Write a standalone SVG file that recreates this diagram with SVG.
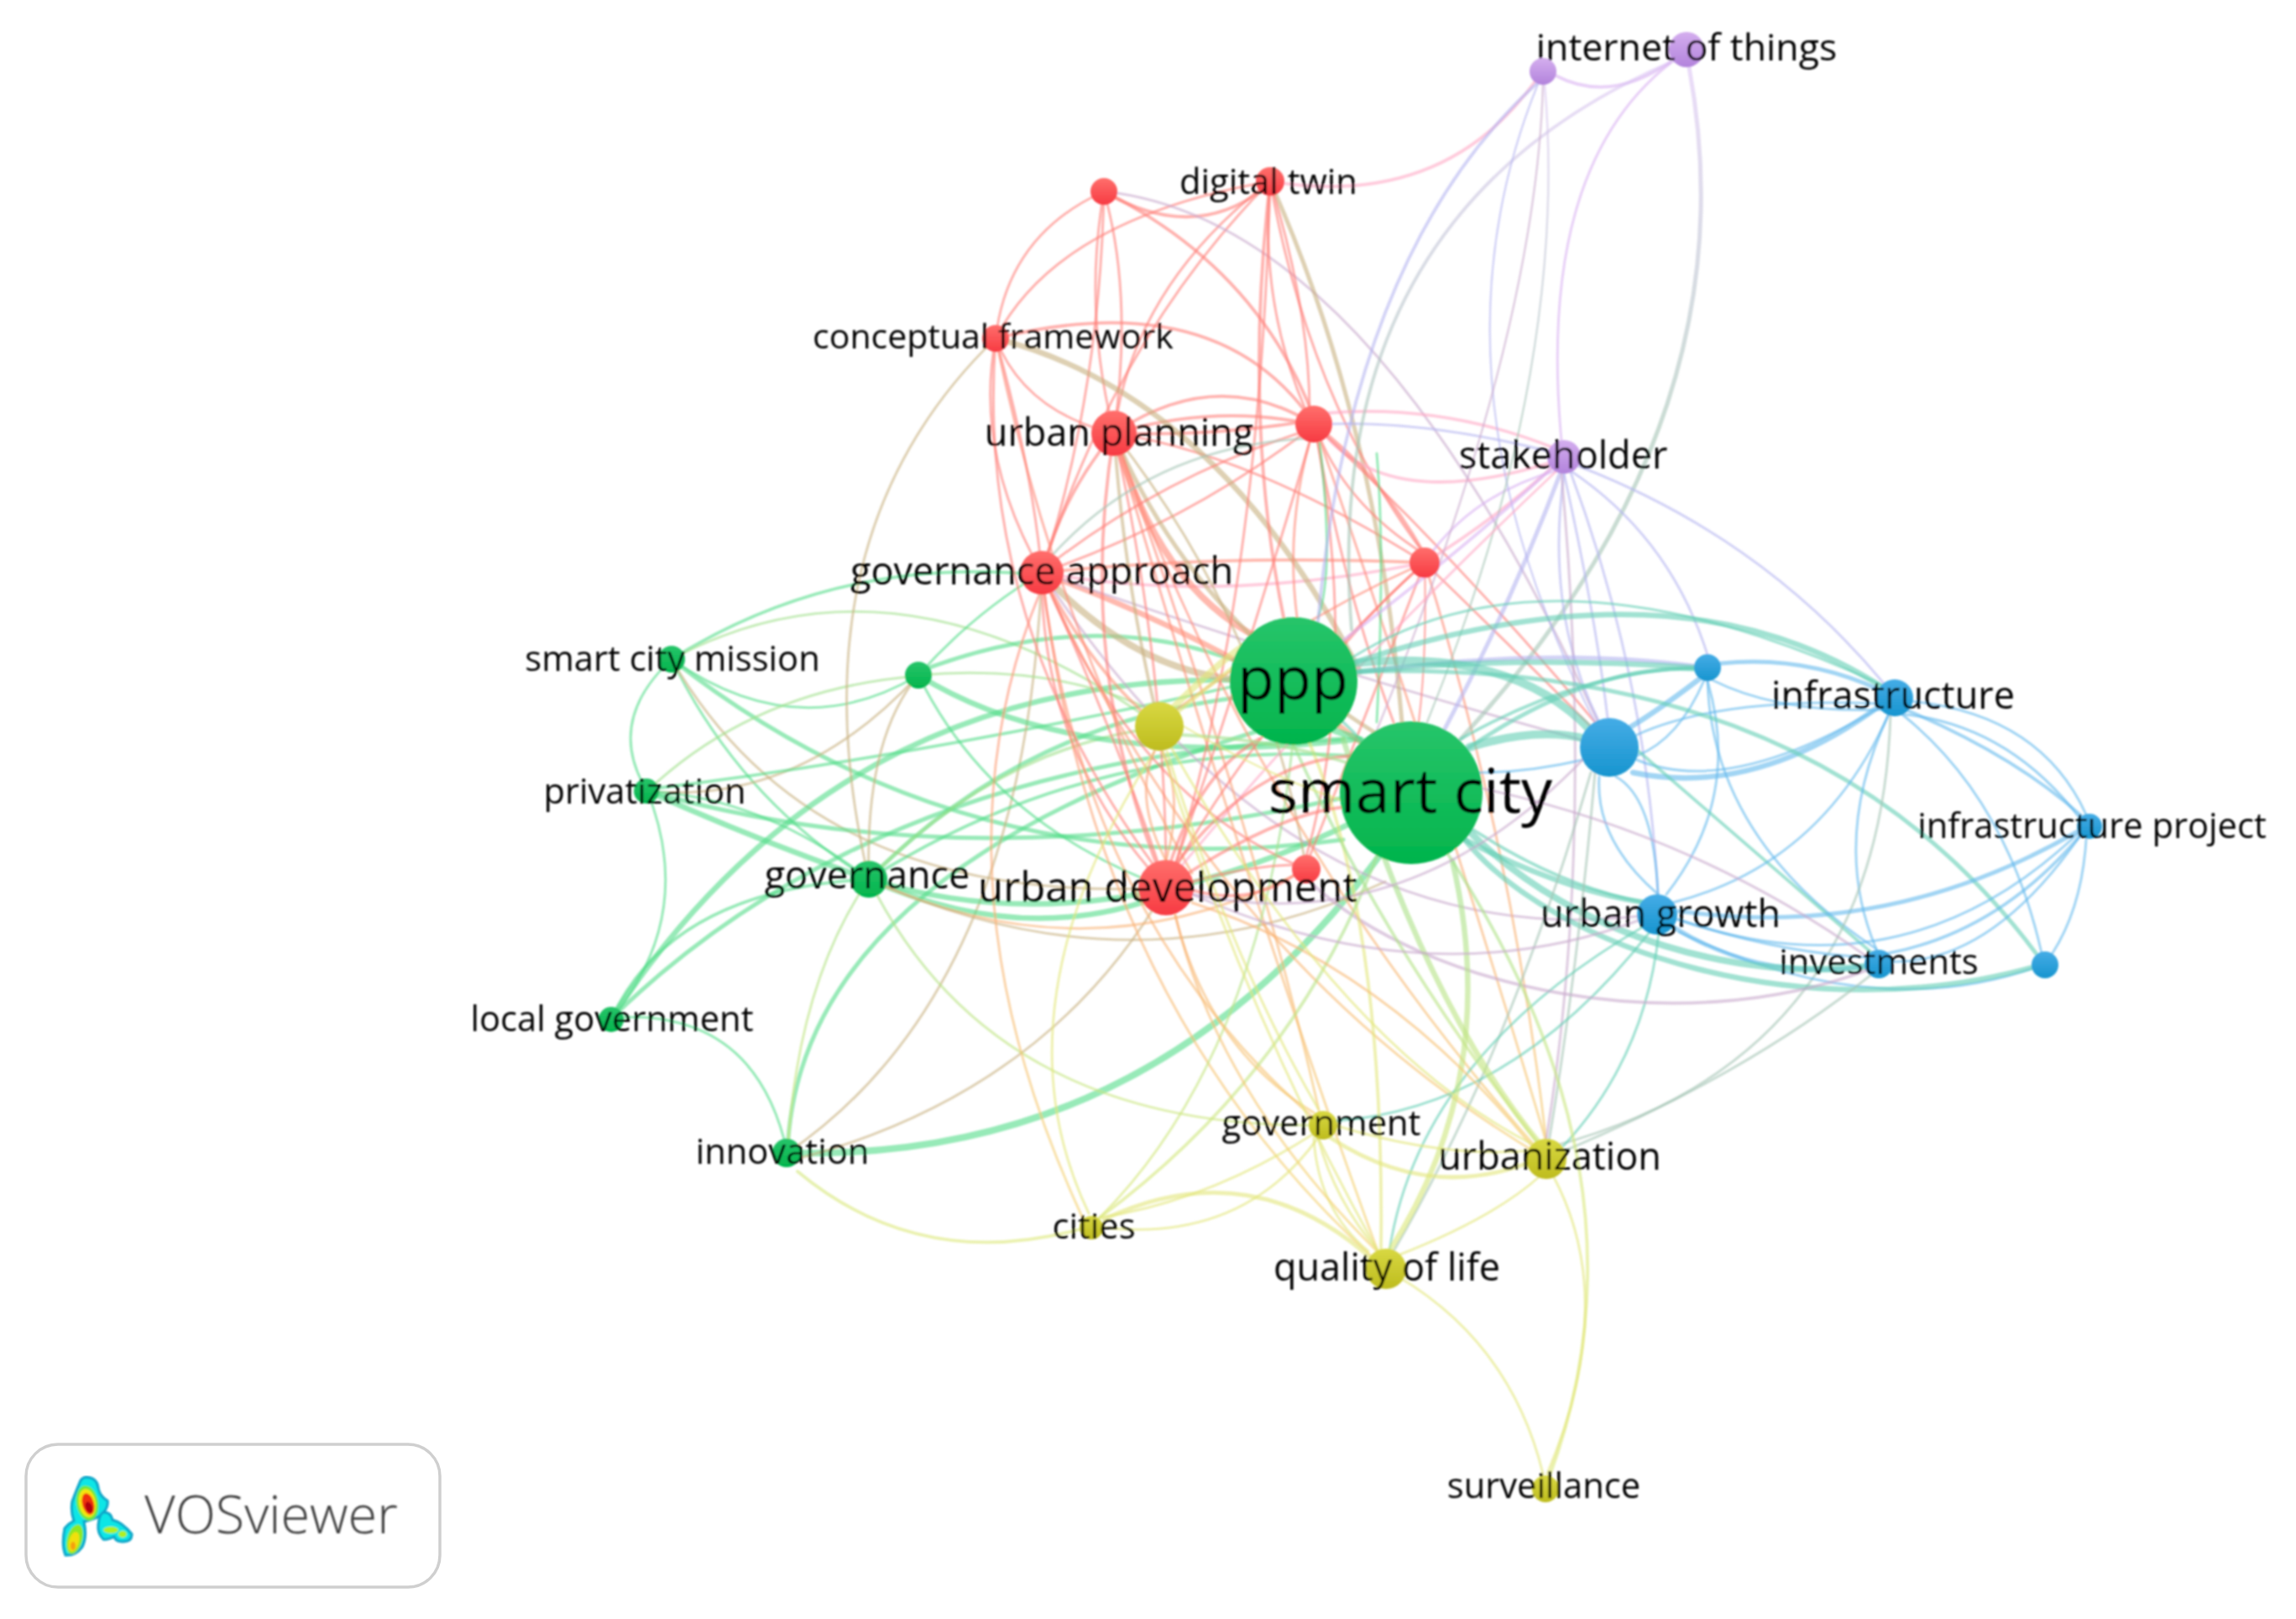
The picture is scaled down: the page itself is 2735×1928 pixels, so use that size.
<svg xmlns="http://www.w3.org/2000/svg" width="2735" height="1928" viewBox="0 0 2735 1928">
<style>
#connectors path{fill:none;stroke-width:3;stroke-opacity:.6;stroke-linecap:round}
.r{stroke:#ff7f78}.g{stroke:#52dc88}.b{stroke:#64b9ec}.y{stroke:#e2e67a}.p{stroke:#d8b0f2}
.rg{stroke:#c8b080}.gb{stroke:#62cfb4}.yg{stroke:url(#vg)}.rp{stroke:#ffa8c4}.bp{stroke:#b4b4f0}.gp{stroke:url(#vp)}.ry{stroke:url(#vr)}.rb{stroke:#c8a8cc}
#connectors .w2{stroke-width:2.4}#connectors .w3{stroke-width:3.8}#connectors .w4{stroke-width:5}#connectors .w5{stroke-width:6.5}#connectors .w6{stroke-width:8}#connectors .w8{stroke-width:10}
.nr{fill:url(#gr)}.ng{fill:url(#gg)}.nb{fill:url(#gb)}.ny{fill:url(#gy)}.np{fill:url(#gp)}
text{font-family:"Open Sans","Noto Sans","Liberation Sans",sans-serif;fill:#000;text-anchor:middle}
.s{font-size:41.7px}.m{font-size:45px}
</style>
<defs>
<linearGradient id="gr" x1="0" y1="0" x2="0" y2="1"><stop offset="0" stop-color="#ff6f6c"/><stop offset="1" stop-color="#f73a42"/></linearGradient>
<linearGradient id="gg" x1="0" y1="0" x2="0" y2="1"><stop offset="0" stop-color="#27c56a"/><stop offset="1" stop-color="#02b44c"/></linearGradient>
<linearGradient id="gb" x1="0" y1="0" x2="0" y2="1"><stop offset="0" stop-color="#45ace6"/><stop offset="1" stop-color="#1795cf"/></linearGradient>
<linearGradient id="gy" x1="0" y1="0" x2="0" y2="1"><stop offset="0" stop-color="#d8d842"/><stop offset="1" stop-color="#bebc1e"/></linearGradient>
<linearGradient id="gp" x1="0" y1="0" x2="0" y2="1"><stop offset="0" stop-color="#d4aeee"/><stop offset="1" stop-color="#b283dc"/></linearGradient>
<linearGradient id="vr" gradientUnits="userSpaceOnUse" x1="0" y1="720" x2="0" y2="1400"><stop offset="0" stop-color="#ff8a78"/><stop offset="1" stop-color="#f4d070"/></linearGradient>
<linearGradient id="vg" gradientUnits="userSpaceOnUse" x1="0" y1="1000" x2="0" y2="1460"><stop offset="0" stop-color="#a0e08c"/><stop offset="1" stop-color="#dce878"/></linearGradient>
<linearGradient id="vp" gradientUnits="userSpaceOnUse" x1="0" y1="80" x2="0" y2="520"><stop offset="0" stop-color="#dcc4f4"/><stop offset="1" stop-color="#a4c4b4"/></linearGradient>
<filter id="soft" x="-2%" y="-2%" width="104%" height="104%"><feGaussianBlur stdDeviation="0.8"/></filter>
</defs>
<rect width="2735" height="1928" fill="#fff"/>
<g filter="url(#soft)">
<g id="connectors">
<path class="g w3" d="M800 785Q1000 660 1241 685"/>
<path class="yg" d="M800 785Q1070 640 1381 865"/>
<path class="g" d="M800 785Q950 890 1094 804"/>
<path class="g" d="M800 785Q720 860 771 942"/>
<path class="g" d="M800 785Q880 950 1035 1047"/>
<path class="rg" d="M800 785Q970 1080 1389 1057"/>
<path class="g w4" d="M800 785Q1150 1060 1600 1000"/>
<path class="yg" d="M771 942Q900 820 1094 805"/>
<path class="rg" d="M771 942Q950 960 1094 804"/>
<path class="g" d="M771 942Q910 950 1035 1047"/>
<path class="g w5" d="M771 942Q900 1000 1035 1047"/>
<path class="g w4" d="M771 942Q1150 1050 1600 950"/>
<path class="g w3" d="M771 940Q1100 900 1480 815"/>
<path class="g" d="M771 942Q830 1090 729 1212"/>
<path class="g w3" d="M729 1212Q800 1060 1035 1047"/>
<path class="g w5" d="M729 1212Q1000 800 1480 810"/>
<path class="g w4" d="M729 1212Q1050 900 1600 880"/>
<path class="g" d="M729 1212Q900 1200 938 1373"/>
<path class="g w4" d="M938 1373Q950 1040 1500 870"/>
<path class="yg" d="M938 1373Q950 1170 1035 1047"/>
<path class="g w6" d="M950 1373Q1380 1380 1650 1010"/>
<path class="rg" d="M938 1373Q1220 1180 1241 682"/>
<path class="rg" d="M950 1380Q1250 1300 1389 1057"/>
<path class="yg w3" d="M950 1395Q1100 1520 1300 1460"/>
<path class="rg" d="M1035 1047Q940 640 1186 403"/>
<path class="rg" d="M1035 1047Q1030 880 1094 804"/>
<path class="g w5" d="M1035 1047Q1220 1130 1389 1065"/>
<path class="g w5" d="M1035 1047Q1300 1130 1610 980"/>
<path class="ry" d="M1035 1047Q1300 1170 1556 1035"/>
<path class="rg" d="M1035 1047Q1350 1190 1650 1050"/>
<path class="g w4" d="M1035 1047Q1220 860 1480 830"/>
<path class="yg w3" d="M1035 1047Q1180 900 1355 870"/>
<path class="g w3" d="M1035 1047Q1300 880 1610 900"/>
<path class="yg" d="M1035 1047Q1180 1340 1560 1340"/>
<path class="g w4" d="M1094 800Q1300 720 1480 790"/>
<path class="g w5" d="M1094 804Q1280 920 1620 880"/>
<path class="yg" d="M1094 804Q1260 790 1381 850"/>
<path class="g" d="M1094 804Q1180 980 1389 1057"/>
<path class="g" d="M1094 804Q1160 730 1241 682"/>
<path class="r w3" d="M1241 682Q1265 590 1327 516"/>
<path class="r" d="M1241 682Q1420 620 1566 506"/>
<path class="r" d="M1241 682Q1160 540 1186 403"/>
<path class="r" d="M1186 403Q1230 560 1241 682"/>
<path class="r" d="M1241 682Q1330 400 1513 216"/>
<path class="r" d="M1241 682Q1310 470 1315 228"/>
<path class="rp w3" d="M1241 682Q1450 720 1697 670"/>
<path class="ry w3" d="M1241 682Q1450 660 1697 670"/>
<path class="rg w6" d="M1241 682Q1350 800 1480 810"/>
<path class="ry w5" d="M1241 682Q1500 780 1640 900"/>
<path class="r" d="M1241 682Q1240 900 1389 1057"/>
<path class="r" d="M1241 682Q1340 900 1389 1057"/>
<path class="r" d="M1241 682Q1350 950 1556 1035"/>
<path class="ry w3" d="M1241 682Q1300 800 1381 865"/>
<path class="ry" d="M1241 682Q1290 1100 1575 1340"/>
<path class="ry" d="M1241 682Q1300 1200 1648 1509"/>
<path class="ry" d="M1241 682Q1450 1150 1842 1380"/>
<path class="rb" d="M1241 682Q1550 1150 1975 1088"/>
<path class="rb" d="M1241 682Q1580 800 1917 890"/>
<path class="ry w6" d="M1327 516Q1380 700 1500 760"/>
<path class="rg w4" d="M1327 516Q1420 740 1650 880"/>
<path class="r" d="M1186 403Q1220 490 1327 516"/>
<path class="r" d="M1327 516Q1350 350 1315 228"/>
<path class="r" d="M1327 516Q1290 370 1315 228"/>
<path class="r" d="M1327 516Q1350 340 1513 216"/>
<path class="r w3" d="M1327 516Q1450 433 1566 506"/>
<path class="r w3" d="M1327 516Q1450 480 1566 506"/>
<path class="r w3" d="M1327 516Q1450 520 1566 500"/>
<path class="r" d="M1327 516Q1490 540 1697 670"/>
<path class="rg" d="M1327 516Q1510 750 1556 1035"/>
<path class="r w3" d="M1327 516Q1280 800 1389 1057"/>
<path class="r" d="M1327 516Q1390 800 1389 1057"/>
<path class="rg w3" d="M1327 516Q1340 700 1381 865"/>
<path class="ry" d="M1327 516Q1500 1000 1575 1340"/>
<path class="ry" d="M1327 516Q1480 1050 1648 1509"/>
<path class="ry" d="M1327 516Q1500 1000 1842 1380"/>
<path class="r" d="M1186 403Q1200 280 1315 228"/>
<path class="r" d="M1186 403Q1260 260 1513 216"/>
<path class="r w3" d="M1186 403Q1440 340 1555 490"/>
<path class="r" d="M1186 403Q1160 750 1389 1050"/>
<path class="ry" d="M1186 403Q1260 760 1420 1040"/>
<path class="rg w5" d="M1186 403Q1450 470 1620 800"/>
<path class="r w3" d="M1315 228Q1420 290 1505 225"/>
<path class="rb" d="M1315 228Q1640 262 1917 890"/>
<path class="r w3" d="M1315 228Q1500 320 1566 500"/>
<path class="rp w3" d="M1513 216Q1720 250 1830 95"/>
<path class="rg w4" d="M1513 216Q1640 500 1670 860"/>
<path class="r" d="M1513 216Q1560 370 1560 490"/>
<path class="r" d="M1513 216Q1500 360 1556 490"/>
<path class="r w3" d="M1513 216Q1480 500 1530 740"/>
<path class="r" d="M1513 216Q1560 480 1697 660"/>
<path class="r" d="M1513 216Q1500 700 1400 1030"/>
<path class="rp w3" d="M1580 492Q1720 480 1855 535"/>
<path class="rp w3" d="M1580 520Q1660 610 1850 550"/>
<path class="bp" d="M1580 505Q1700 500 1855 540"/>
<path class="r w3" d="M1566 506Q1640 560 1697 660"/>
<path class="r" d="M1566 506Q1600 600 1697 660"/>
<path class="r" d="M1566 506Q1600 700 1660 860"/>
<path class="ry" d="M1566 506Q1530 620 1545 735"/>
<path class="r" d="M1566 506Q1480 800 1400 1030"/>
<path class="r" d="M1566 506Q1620 800 1556 1020"/>
<path class="r" d="M1566 510Q1400 560 1260 665"/>
<path class="gp" d="M1560 522Q1370 530 1250 665"/>
<path class="r" d="M1566 506Q1750 680 1900 860"/>
<path class="ry" d="M1566 506Q1720 950 1842 1360"/>
<path class="g" d="M1572 528Q1590 680 1570 736"/>
<path class="g" d="M1640 540Q1650 660 1640 860"/>
<path class="rp w3" d="M1697 670Q1780 620 1863 544"/>
<path class="p" d="M1697 670Q1750 590 1855 560"/>
<path class="r" d="M1697 670Q1640 720 1600 770"/>
<path class="r w2" d="M1697 670Q1700 780 1690 860"/>
<path class="r" d="M1697 670Q1790 760 1900 870"/>
<path class="r" d="M1697 670Q1620 870 1560 1020"/>
<path class="r" d="M1697 670Q1500 850 1400 1035"/>
<path class="ry" d="M1697 670Q1540 740 1395 850"/>
<path class="ry" d="M1697 670Q1800 1000 1842 1360"/>
<path class="p w3" d="M1853 90Q1920 125 1995 70"/>
<path class="gp w3" d="M2000 70Q1570 250 1610 750"/>
<path class="p" d="M1990 75Q1830 200 1860 525"/>
<path class="gp w4" d="M2012 80Q2090 500 1740 880"/>
<path class="bp w3" d="M1830 100Q1610 300 1570 740"/>
<path class="bp w2" d="M1832 100Q1690 450 1900 860"/>
<path class="rb w2" d="M1838 100Q1830 400 1640 870"/>
<path class="gp w2" d="M1840 100Q1870 440 1700 860"/>
<path class="p w3" d="M1863 544Q1750 650 1590 770"/>
<path class="bp w4" d="M1860 560Q1800 720 1720 870"/>
<path class="bp" d="M1863 564Q1840 730 1905 860"/>
<path class="bp" d="M1863 564Q1900 730 1915 855"/>
<path class="bp" d="M1870 560Q1990 640 2034 780"/>
<path class="bp" d="M1880 555Q2100 640 2245 815"/>
<path class="bp" d="M1870 560Q1960 800 1975 1065"/>
<path class="rp" d="M1855 560Q1600 800 1400 1040"/>
<path class="rb" d="M1860 564Q1900 1000 1842 1356"/>
<path class="b w5" d="M2025 808Q1970 850 1935 870"/>
<path class="b" d="M2030 810Q2000 880 1950 900"/>
<path class="bp w4" d="M2018 793Q1850 770 1620 800"/>
<path class="gb w4" d="M2018 797Q1900 790 1750 890"/>
<path class="b w4" d="M2050 790Q2150 780 2240 822"/>
<path class="b" d="M2034 811Q2075 950 1985 1065"/>
<path class="b" d="M2034 811Q2040 1000 2235 1130"/>
<path class="b" d="M2040 810Q2120 850 2245 845"/>
<path class="gb w5" d="M1610 790Q2000 660 2245 820"/>
<path class="gb" d="M1600 790Q1840 630 2240 815"/>
<path class="b w5" d="M2240 840Q2090 950 1945 920"/>
<path class="b" d="M2240 838Q2050 830 1950 875"/>
<path class="b" d="M2240 842Q2060 950 1950 905"/>
<path class="gb w4" d="M1610 800Q2160 780 2425 1135"/>
<path class="gb w3" d="M1935 880Q2050 980 2230 1135"/>
<path class="b w3" d="M2270 845Q2400 900 2480 972"/>
<path class="b" d="M2275 835Q2430 850 2485 970"/>
<path class="b" d="M2260 850Q2390 860 2478 975"/>
<path class="b" d="M2250 850Q2180 1000 2235 1130"/>
<path class="b" d="M2265 850Q2390 950 2432 1135"/>
<path class="b" d="M2250 850Q2170 1030 1992 1075"/>
<path class="gp" d="M2252 850Q2240 1260 1850 1365"/>
<path class="b w4" d="M2475 990Q2250 1120 2000 1085"/>
<path class="b w3" d="M2478 995Q2380 1110 2250 1135"/>
<path class="b" d="M2478 995Q2370 1150 2250 1145"/>
<path class="b" d="M2485 1000Q2480 1080 2445 1135"/>
<path class="b" d="M2478 990Q2270 1190 2000 1095"/>
<path class="b" d="M1975 1065Q1970 950 1925 925"/>
<path class="b" d="M1975 1065Q1900 1000 1905 925"/>
<path class="b w4" d="M1995 1105Q2100 1170 2225 1150"/>
<path class="b" d="M1998 1095Q2120 1135 2225 1140"/>
<path class="b" d="M2000 1110Q2230 1220 2425 1152"/>
<path class="gb w5" d="M1745 1000C1850 1130 2150 1230 2428 1150"/>
<path class="gb w6" d="M1750 990C1880 1120 2080 1170 2230 1150"/>
<path class="gb w5" d="M1745 1000Q1860 1060 1960 1075"/>
<path class="gb w8" d="M1750 890Q1830 865 1890 880"/>
<path class="gb w8" d="M1610 790Q1800 770 1895 870"/>
<path class="gb w5" d="M1617 800Q1800 780 2020 795"/>
<path class="gb w3" d="M1740 880Q1880 800 2020 795"/>
<path class="gb w3" d="M1600 860Q1780 1040 1960 1075"/>
<path class="b" d="M1885 905Q1820 920 1760 920"/>
<path class="gp" d="M1900 920Q1880 1150 1845 1360"/>
<path class="gp" d="M1895 920Q1800 1250 1660 1490"/>
<path class="gb" d="M1965 1110Q1800 1320 1590 1335"/>
<path class="gb" d="M1976 1110Q1960 1260 1862 1365"/>
<path class="gb" d="M1955 1105Q1690 1260 1655 1490"/>
<path class="gp" d="M2230 1160Q2080 1280 1860 1372"/>
<path class="rb w3" d="M1560 1050C1700 1180 2000 1240 2225 1155"/>
<path class="rb" d="M1720 930Q2000 980 2225 1140"/>
<path class="yg w5" d="M1600 880Q1700 1200 1836 1364"/>
<path class="yg w5" d="M1730 1025Q1790 1280 1655 1490"/>
<path class="y w3" d="M1560 885Q1650 1100 1645 1490"/>
<path class="yg w3" d="M1540 885Q1650 1130 1835 1365"/>
<path class="yg w3" d="M1720 1010Q1980 1400 1845 1760"/>
<path class="y" d="M1850 1400Q1930 1550 1843 1755"/>
<path class="y" d="M1665 1520Q1800 1600 1838 1755"/>
<path class="y" d="M1665 1495Q1780 1450 1835 1400"/>
<path class="y w4" d="M1585 1355Q1700 1430 1820 1385"/>
<path class="y" d="M1590 1340Q1720 1380 1825 1370"/>
<path class="y" d="M1570 1355Q1590 1430 1642 1490"/>
<path class="y" d="M1565 1355Q1570 1440 1630 1490"/>
<path class="y" d="M1565 1350Q1440 1430 1310 1450"/>
<path class="y" d="M1570 1355Q1480 1480 1315 1462"/>
<path class="y w4" d="M1315 1452Q1490 1370 1635 1500"/>
<path class="yg w3" d="M1310 1450Q1540 1280 1640 1020"/>
<path class="yg" d="M1310 1450Q1500 1260 1540 885"/>
<path class="y" d="M1297 1445Q1180 1200 1375 895"/>
<path class="ry" d="M1289 1449Q1100 1040 1241 700"/>
<path class="r w3" d="M1400 1030Q1500 900 1620 900"/>
<path class="r w3" d="M1415 1040Q1540 960 1620 960"/>
<path class="r w3" d="M1395 1025Q1430 920 1500 880"/>
<path class="r w3" d="M1420 1060Q1490 1080 1545 1040"/>
<path class="r" d="M1420 1050Q1490 1030 1545 1030"/>
<path class="ry" d="M1389 1025Q1410 950 1385 895"/>
<path class="ry" d="M1389 1025Q1350 950 1375 895"/>
<path class="ry" d="M1400 1090Q1440 1250 1565 1325"/>
<path class="ry" d="M1420 1075Q1650 1150 1825 1365"/>
<path class="ry" d="M1400 1090Q1450 1300 1640 1490"/>
<path class="rb" d="M1420 1065Q1680 1120 1890 900"/>
<path class="rb" d="M1420 1065Q1700 1190 1955 1095"/>
<path class="y w6" d="M1395 845Q1450 790 1480 770"/>
<path class="y w4" d="M1400 850Q1460 800 1490 780"/>
<path class="yg w3" d="M1405 875Q1520 880 1610 910"/>
<path class="y w2" d="M1410 865Q1520 930 1620 960"/>
<path class="y" d="M1385 895Q1480 1200 1640 1488"/>
<path class="y" d="M1395 890Q1600 1250 1830 1365"/>
<path class="y" d="M1390 895Q1470 1150 1570 1320"/>
<path class="g w6" d="M1590 870Q1620 880 1640 890"/>
</g>
<g id="n-ppp"><circle class="ng" cx="1541" cy="811" r="76"/><text x="1540" y="833" font-size="72">ppp</text></g>
<g id="n-smart-city"><circle class="ng" cx="1681" cy="944" r="85"/><text x="1680" y="968" font-size="74">smart city</text></g>
<g id="n-yellow"><circle class="ny" cx="1381" cy="865" r="29"/></g>
<g id="n-blue-large"><circle class="nb" cx="1917" cy="890" r="35"/></g>
<g id="n-red-lower"><circle class="nr" cx="1556" cy="1035" r="17"/></g>
<g id="n-urban-development"><circle class="nr" cx="1389" cy="1057" r="33"/><text x="1391" y="1074" font-size="49">urban development</text></g>
<g id="n-governance-approach"><circle class="nr" cx="1241" cy="682" r="26"/><text class="m" x="1241" y="696">governance approach</text></g>
<g id="n-red-right"><circle class="nr" cx="1697" cy="670" r="18"/></g>
<g id="n-green-small"><circle class="ng" cx="1094" cy="804" r="16"/></g>
<g id="n-governance"><circle class="ng" cx="1035" cy="1047" r="22"/><text class="m" x="1033" y="1058">governance</text></g>
<g id="n-urban-planning"><circle class="nr" cx="1327" cy="516" r="27"/><text class="m" x="1333" y="531">urban planning</text></g>
<g id="n-red-top"><circle class="nr" cx="1565" cy="505" r="22"/></g>
<g id="n-conceptual-framework"><circle class="nr" cx="1186" cy="403" r="16"/><text class="s" x="1183" y="415" style="font-size:41px">conceptual framework</text></g>
<g id="n-digital-twin"><circle class="nr" cx="1513" cy="216" r="17"/><text class="s" x="1511" y="231">digital twin</text></g>
<g id="n-red-upper"><circle class="nr" cx="1315" cy="228" r="16"/></g>
<g id="n-internet-of-things"><circle class="np" cx="2009" cy="59" r="21"/><text class="m" x="2009" y="72" style="font-size:44.6px">internet of things</text></g>
<g id="n-purple"><circle class="np" cx="1838" cy="85" r="16"/></g>
<g id="n-stakeholder"><circle class="np" cx="1863" cy="544" r="20"/><text class="m" x="1862" y="558">stakeholder</text></g>
<g id="n-blue-small"><circle class="nb" cx="2034" cy="795" r="16"/></g>
<g id="n-infrastructure"><circle class="nb" cx="2257" cy="831" r="22"/><text class="m" x="2255" y="844">infrastructure</text></g>
<g id="n-infrastructure-project"><circle class="nb" cx="2489" cy="984" r="15"/><text class="s" x="2492" y="998">infrastructure project</text></g>
<g id="n-urban-growth"><circle class="nb" cx="1974" cy="1089" r="24"/><text class="m" x="1978" y="1104">urban growth</text></g>
<g id="n-investments"><circle class="nb" cx="2238" cy="1148" r="17"/><text class="s" x="2238" y="1160">investments</text></g>
<g id="n-blue-right"><circle class="nb" cx="2436" cy="1149" r="16"/></g>
<g id="n-smart-city-mission"><circle class="ng" cx="800" cy="785" r="16"/><text class="s" x="801" y="799">smart city mission</text></g>
<g id="n-privatization"><circle class="ng" cx="770" cy="942" r="15"/><text class="s" x="768" y="957">privatization</text></g>
<g id="n-local-government"><circle class="ng" cx="728" cy="1214" r="15"/><text class="s" x="729" y="1228">local government</text></g>
<g id="n-innovation"><circle class="ng" cx="937" cy="1373" r="17"/><text class="s" x="932" y="1386">innovation</text></g>
<g id="n-government"><circle class="ny" cx="1576" cy="1340" r="17"/><text class="s" x="1574" y="1352">government</text></g>
<g id="n-urbanization"><circle class="ny" cx="1842" cy="1380" r="24"/><text class="m" x="1846" y="1393">urbanization</text></g>
<g id="n-cities"><circle class="ny" cx="1300" cy="1462" r="14"/><text class="s" x="1303" y="1475">cities</text></g>
<g id="n-quality-of-life"><circle class="ny" cx="1651" cy="1511" r="24"/><text class="m" x="1652" y="1525">quality of life</text></g>
<g id="n-surveillance"><circle class="ny" cx="1841" cy="1773" r="16"/><text class="s" x="1839" y="1784">surveillance</text></g>
</g>
<g id="legend">
<rect x="31" y="1720" width="493" height="170" rx="38" fill="#fff" stroke="#cfcfcf" stroke-width="3.5"/>
<g filter="url(#soft)">
<path d="M103 1759Q116 1760 117 1772Q119 1782 128 1787Q130 1797 118 1806Q106 1811 100 1812Q104 1830 98 1842Q90 1853 78 1852Q73 1840 77 1820Q82 1814 88 1811Q84 1800 86 1788Q92 1772 96 1763Q99 1759 103 1759Z" fill="#0ee6e6" stroke="#08a4c8" stroke-width="3"/>
<path d="M123 1801Q132 1800 134 1810Q146 1813 157 1827Q157 1836 146 1836Q138 1836 136 1830Q128 1834 123 1833Q116 1826 117 1816Q118 1804 123 1801Z" fill="#0ee6e6" stroke="#08a4c8" stroke-width="3"/>
<ellipse cx="104" cy="1790" rx="13" ry="21" transform="rotate(-10 104 1790)" fill="#6fe83a"/>
<ellipse cx="104" cy="1790" rx="10" ry="17" transform="rotate(-10 104 1790)" fill="#f5e60a"/>
<ellipse cx="105" cy="1791" rx="7" ry="13" transform="rotate(-15 105 1791)" fill="#f03010"/>
<ellipse cx="106" cy="1795" rx="4" ry="7" transform="rotate(-20 106 1795)" fill="#b00010"/>
<ellipse cx="89" cy="1833" rx="9" ry="18" transform="rotate(15 89 1833)" fill="#8ee824"/>
<ellipse cx="88" cy="1836" rx="6" ry="12" transform="rotate(15 88 1836)" fill="#f0e010"/>
<ellipse cx="87" cy="1841" rx="3" ry="5" fill="#f4a010"/>
<ellipse cx="132" cy="1822" rx="9" ry="4" fill="#b0f020"/>
<ellipse cx="146" cy="1827" rx="5" ry="4" fill="#b0f020"/>
<text x="323" y="1826" font-size="63" font-weight="300" style="fill:#3c3c3c">VOSviewer</text>
</g>
</g>
</svg>
